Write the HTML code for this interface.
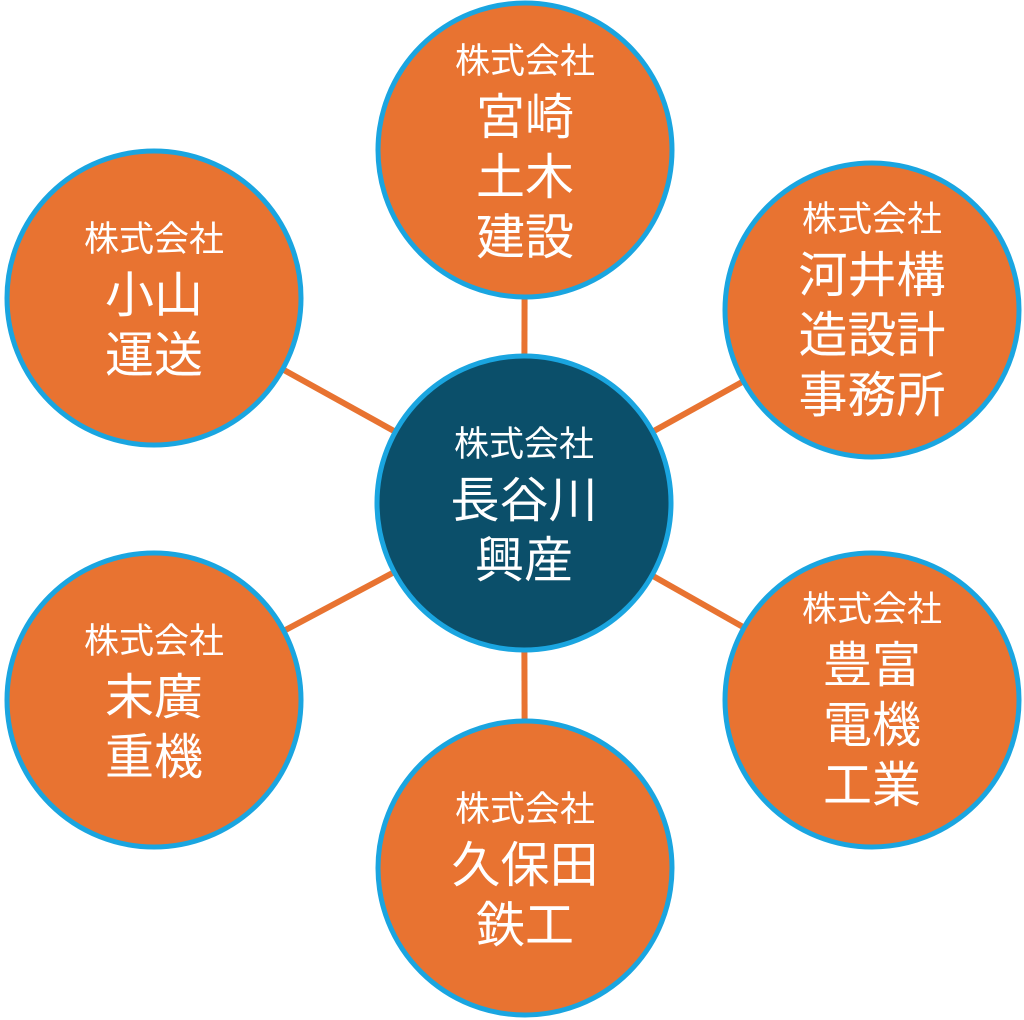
<!DOCTYPE html>
<html><head><meta charset="utf-8"><style>
body{margin:0;width:1024px;height:1019px;background:#fff;position:relative;overflow:hidden;font-family:"Liberation Sans","Noto Sans CJK JP",sans-serif;}
svg{position:absolute;left:0;top:0}
.t{position:absolute;width:300px;height:300px;display:flex;flex-direction:column;justify-content:center;align-items:center;color:#fff;text-align:center}
.s{font-size:35px;line-height:52px}
.b{font-size:49px;line-height:60px}
</style></head><body>
<svg width="1024" height="1019">
<g stroke="#e87331" stroke-width="6">
<line x1="524" y1="503" x2="525" y2="150"/>
<line x1="524" y1="503" x2="872" y2="310"/>
<line x1="524" y1="503" x2="154" y2="298"/>
<line x1="524" y1="503" x2="154" y2="700"/>
<line x1="524" y1="503" x2="872" y2="700"/>
<line x1="524" y1="503" x2="525" y2="868"/>
</g>
<g stroke="#1aa5e0" stroke-width="5" fill="#e87331">
<circle cx="525" cy="150" r="147"/>
<circle cx="872" cy="310" r="147"/>
<circle cx="154" cy="298" r="147"/>
<circle cx="154" cy="700" r="147"/>
<circle cx="872" cy="700" r="147"/>
<circle cx="525" cy="868" r="147"/>
<circle cx="524" cy="503" r="147" fill="#0b4f6a"/>
</g>
</svg>
<div class="t" style="left:375px;top:2px"><div class="s">株式会社</div><div class="b">宮崎<br>土木<br>建設</div></div>
<div class="t" style="left:722px;top:160px"><div class="s">株式会社</div><div class="b">河井構<br>造設計<br>事務所</div></div>
<div class="t" style="left:4px;top:150px"><div class="s">株式会社</div><div class="b">小山<br>運送</div></div>
<div class="t" style="left:4px;top:552px"><div class="s">株式会社</div><div class="b">末廣<br>重機</div></div>
<div class="t" style="left:722px;top:550px"><div class="s">株式会社</div><div class="b">豊富<br>電機<br>工業</div></div>
<div class="t" style="left:375px;top:720px"><div class="s">株式会社</div><div class="b">久保田<br>鉄工</div></div>
<div class="t" style="left:374px;top:355px"><div class="s">株式会社</div><div class="b">長谷川<br>興産</div></div>
</body></html>
